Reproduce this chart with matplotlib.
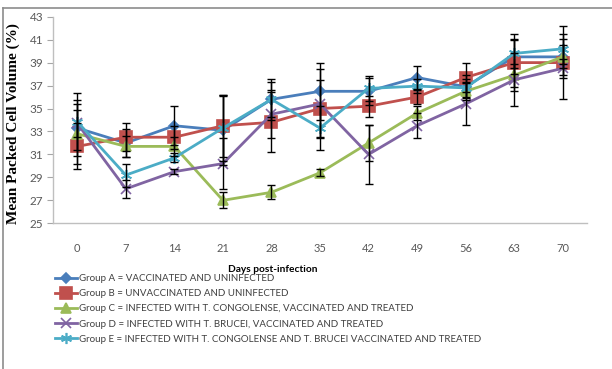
import matplotlib
matplotlib.use("Agg")
import matplotlib.pyplot as plt
from matplotlib.lines import Line2D

days = [0, 7, 14, 21, 28, 35, 42, 49, 56, 63, 70]

group_a = [33.3, 32.0, 33.5, 33.1, 35.8, 36.5, 36.5, 37.7, 36.9, 39.5, 39.5]
group_b = [31.7, 32.5, 32.5, 33.5, 33.8, 35.0, 35.2, 36.0, 37.7, 39.0, 39.0]
group_c = [32.8, 31.7, 31.7, 27.0, 27.7, 29.4, 32.0, 34.6, 36.5, 37.9, 39.5]
group_d = [33.7, 28.0, 29.5, 30.2, 34.5, 35.4, 31.0, 33.5, 35.4, 37.5, 38.5]
group_e = [33.85, 29.2, 30.7, 33.3, 35.8, 33.3, 36.75, 36.95, 36.8, 39.8, 40.2]

err_a = [2.4, 1.2, 1.7, 3.0, 1.8, 2.5, 1.2, 1.0, 1.0, 1.5, 1.0]
err_b = [2.0, 1.2, 1.0, 2.7, 2.6, 2.5, 0.9, 0.6, 1.3, 2.5, 3.2]
err_c = [2.6, 0.9, 0.8, 0.7, 0.6, 0.3, 1.6, 0.6, 0.8, 1.0, 1.6]
err_d = [1.2, 0.8, 0.2, 2.2, 2.1, 3.0, 2.6, 1.1, 1.8, 2.3, 0.8]
err_e = [2.5, 1.0, 0.4, 2.9, 1.5, 1.9, 1.1, 0.6, 0.8, 1.3, 1.3]

labels = [
    "Group A = VACCINATED AND UNINFECTED",
    "Group B = UNVACCINATED AND UNINFECTED",
    "Group C = INFECTED WITH T. CONGOLENSE, VACCINATED AND TREATED",
    "Group D = INFECTED WITH T. BRUCEI, VACCINATED AND TREATED",
    "Group E = INFECTED WITH T. CONGOLENSE AND T. BRUCEI VACCINATED AND TREATED",
]
y_ticks = [25, 27, 29, 31, 33, 35, 37, 39, 41, 43]

series = [group_a, group_b, group_c, group_d, group_e]
errors = [err_a, err_b, err_c, err_d, err_e]
colors = ["#4A7EBB", "#C0504D", "#9BBB59", "#8064A2", "#4BACC6"]
markers = ["D", "s", "^", "x", (6, 2, 0)]
msizes = [5, 8, 7, 7, 8]

fig = plt.figure(figsize=(6.12, 3.69), dpi=100)
ax = fig.add_axes([53 / 612, 1 - 223.3 / 369, 534 / 612, 206.6 / 369])

handles = []
for vals, errs, c, m, ms in zip(series, errors, colors, markers, msizes):
    ax.errorbar(days, vals, yerr=errs, fmt="none", ecolor="black",
                elinewidth=1.0, capsize=3, capthick=1.0, zorder=4)
    h, = ax.plot(days, vals, color=c, lw=2.0, marker=m, markersize=ms,
                 markeredgecolor=c, markerfacecolor=c, markeredgewidth=1.2,
                 zorder=3)
    handles.append(h)

ax.set_xlim(-3.5, 73.5)
ax.set_ylim(25, 43)
ax.set_xticks(days)
ax.set_yticks(y_ticks)
ax.tick_params(axis="x", length=0, pad=14, labelsize=8, labelcolor="#595959")
ax.tick_params(axis="y", length=4, width=0.8, color="#A6A6A6", pad=3,
               labelsize=8.5, labelcolor="#595959")
for lab in ax.get_xticklabels() + ax.get_yticklabels():
    lab.set_family("Lato")

for s in ["top", "right"]:
    ax.spines[s].set_visible(False)
for s in ["left", "bottom"]:
    ax.spines[s].set_color("#BFBFBF")
    ax.spines[s].set_linewidth(1.0)

fig.text(13 / 612, 1 - 124 / 369, "Mean Packed Cell Volume (%)", rotation=90,
         ha="center", va="center", family="Liberation Serif",
         fontweight="bold", fontsize=11, color="black")

fig.text(273 / 612, 1 - 270 / 369, "Days post-infection", ha="center",
         va="center", family="Lato", fontweight="bold", fontsize=7.3,
         color="black")

leg = fig.legend(handles, labels, loc="upper left",
                 bbox_to_anchor=(55 / 612, 1 - 274 / 369), frameon=False,
                 prop={"family": "Lato", "size": 7}, handlelength=2.3,
                 handletextpad=0.2, labelspacing=0.64, borderpad=0,
                 borderaxespad=0)
for t in leg.get_texts():
    t.set_color("#404040")

# chart-area border (top and left edges)
fig.add_artist(Line2D([3 / 612, 1], [1 - 8 / 369, 1 - 8 / 369],
                      transform=fig.transFigure, color="#8C8C8C", lw=1.2))
fig.add_artist(Line2D([3 / 612, 3 / 612], [0, 1 - 8 / 369],
                      transform=fig.transFigure, color="#8C8C8C", lw=1.2))

fig.savefig("out.png", dpi=100)
